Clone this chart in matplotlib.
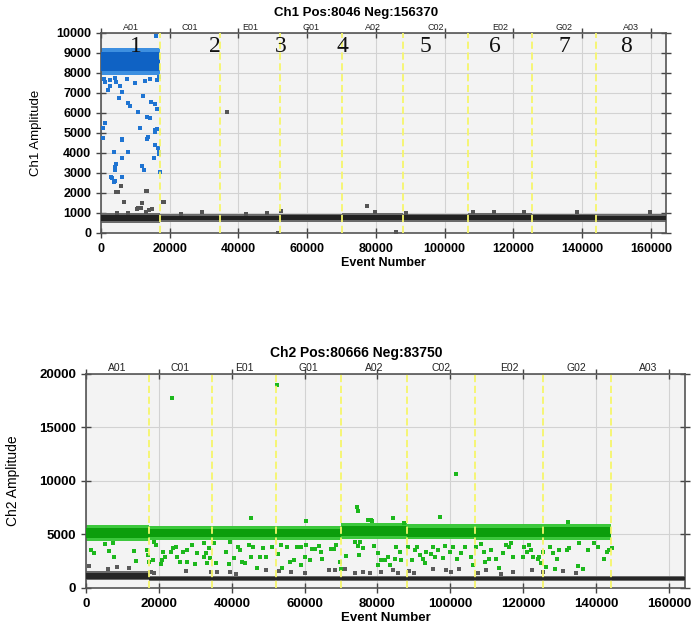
import matplotlib
matplotlib.use('Agg')
import matplotlib.pyplot as plt

plt.rcParams['font.family'] = ['Liberation Sans', 'DejaVu Sans']

# wells and their event ranges
well_names = ['A01', 'C01', 'E01', 'G01', 'A02', 'C02', 'E02', 'G02', 'A03']
well_edges = [0, 17250, 34600, 52200, 70100, 88000, 106800, 125400, 144000, 164416]
total_events = 164416

# numbers written over channel 1
number_labels = ['1', '2', '3', '4', '5', '6', '7', '8']
number_x = [10100, 33200, 52200, 70150, 94500, 114500, 134800, 152800]

# ---- channel 1 ----
ch1_title = 'Ch1 Pos:8046 Neg:156370'
# dense positive cluster (A01 only): outer / core amplitude ranges
ch1_pos_lo, ch1_pos_hi = [7900], [9250]
ch1_pos_core_lo, ch1_pos_core_hi = [8100], [9050]
# dense negative cluster per well
ch1_neg_lo = [500, 540, 540, 530, 540, 540, 530, 540, 530]
ch1_neg_hi = [1000, 960, 960, 970, 980, 970, 980, 970, 960]
ch1_neg_core_lo = [620, 640, 640, 640, 650, 650, 640, 650, 640]
ch1_neg_core_hi = [900, 870, 870, 880, 890, 880, 890, 880, 870]

ch1_pos_rain_x = [15950, 1160, 1930, 2600, 4350, 5500, 6000, 5310, 7900, 8400, 10800, 12270,
                  14500, 15650, 16150, 13240, 14200, 11300, 15850, 16150, 670, 1160, 670, 6000,
                  6100, 13240, 13530, 15850, 16600, 16810, 3860, 7740, 4250, 4060, 3100, 4060,
                  6000, 6000, 11800, 12470, 15360, 17100, 15650, 16900, 970, 2610, 4060, 7450,
                  9860, 12760, 14200, 16150, 16810, 2900, 3860, 4060]
ch1_pos_rain_y = [9850, 7570, 7150, 7330, 7530, 7330, 7070, 6730, 6520, 6330, 6070, 6870,
                  6570, 6450, 6180, 5780, 5730, 5270, 5150, 5200, 5230, 5480, 4730, 4650,
                  4720, 4680, 4780, 4400, 4230, 4070, 4070, 4070, 3430, 3150, 2730, 2600,
                  3730, 2820, 3330, 3130, 3730, 3030, 5070, 3930, 7680, 7650, 7730, 7680,
                  7480, 7620, 7680, 7650, 7780, 2820, 2570, 3320]

ch1_neg_rain_x = [4250, 4830, 5800, 6760, 13050, 18060, 11800, 10350, 11500, 12950, 13900, 14700,
                  7740, 4730, 29470, 23390, 42240, 48300, 52380, 51600, 36620, 77300, 79640,
                  85900, 88900, 108200, 114500, 123100, 138400, 159800, 10820, 11800, 13240, 18360]
ch1_neg_rain_y = [2030, 2030, 2350, 1550, 2100, 1550, 1520, 1180, 1270, 1070, 1150, 1180,
                  1020, 1020, 1030, 950, 930, 1020, 1100, 20, 6030, 1330, 1030,
                  30, 980, 1030, 1070, 1070, 1030, 1030, 1230, 1480, 2120, 1570]

# ---- channel 2 ----
ch2_title = 'Ch2 Pos:80666 Neg:83750'
ch2_pos_lo = [4400, 4450, 4450, 4450, 4600, 4550, 4500, 4450]
ch2_pos_hi = [5900, 5800, 5800, 5800, 6050, 5950, 5950, 6000]
ch2_pos_core_lo = [4700, 4750, 4750, 4750, 4900, 4800, 4800, 4750]
ch2_pos_core_hi = [5600, 5500, 5500, 5500, 5750, 5650, 5650, 5700]
ch2_neg_lo = [700, 620, 620, 620, 640, 640, 640, 640, 650]
ch2_neg_hi = [1600, 1150, 1150, 1150, 1150, 1150, 1150, 1150, 1100]
ch2_neg_core_lo = [820, 700, 700, 700, 720, 720, 720, 720, 720]
ch2_neg_core_hi = [1380, 1020, 1020, 1020, 1030, 1030, 1030, 1030, 1000]

ch2_pos_rain_x = [1370, 2280, 5200, 7300, 6390, 7580, 13240, 13700, 16700, 16900, 17350, 18260,
                  18720, 19170, 21000, 20800, 21640, 20540, 23280, 23920, 24830, 25100, 25840,
                  26480, 27850, 27850, 29220, 29860, 30590, 32410, 32410, 32870, 33140, 33780,
                  33960, 35150, 35790, 38350, 39260, 39440, 40630, 41820, 42180, 42910, 43640,
                  44740, 45190, 45750, 46850, 47760, 48580, 49500, 51140, 52780, 53600, 53890,
                  55170, 55900, 57000, 57910, 59090, 60460, 62010, 62920, 60090, 61460, 59090,
                  63920, 64560, 64830, 67300, 68030, 68670, 69580, 70040, 71230, 73700, 74610,
                  75070, 75980, 74880, 79080, 80180, 80180, 80910, 81990, 82900, 83360, 84730,
                  85190, 86100, 86560, 88390, 89490, 90220, 90950, 91590, 92500, 92960, 93410,
                  94600, 95240, 95690, 96610, 97970, 98430, 99800, 100710, 101890, 102990, 103900,
                  105680, 106310, 107040, 108410, 109320, 109600, 110690, 111150, 112520, 113430,
                  114350, 115260, 116170, 116630, 117090, 119830, 120290, 120930, 121650, 122110,
                  122570, 123940, 124390, 124850, 125490, 126220, 127410, 128040, 128770, 129140,
                  129870, 131880, 132610, 134940, 135400, 136500, 137690, 139520, 140430, 142260,
                  142900, 143630, 144360,
                  23650, 52520, 45400, 60280, 74340, 74610, 77260, 78170, 78620, 84270, 87290,
                  97060, 101440, 132150]
ch2_pos_rain_y = [3550, 3300, 4080, 4180, 3490, 2930, 3490, 2540, 3550, 3080, 2450, 2620,
                  4340, 4020, 3380, 2620, 2930, 2210, 3380, 3710, 3860, 2930, 2460,
                  3380, 3550, 2460, 4020, 2210, 3240, 2930, 4180, 3300, 2340, 3710,
                  2770, 4180, 2310, 3380, 2270, 4340, 2770, 3860, 3550, 2460, 2340,
                  4020, 2870, 3800, 1840, 2870, 3710, 2870, 3830, 3150, 4020, 1840,
                  3800, 2460, 2620, 3800, 3860, 4050, 3640, 3640, 2870, 2620, 2150,
                  3930, 3400, 2680, 3610, 3610, 4020, 2460, 1740, 2990, 4330, 3930,
                  4330, 3710, 3080, 3930, 3240, 2150, 2620, 2620, 2870, 2150, 2680,
                  3860, 3400, 2620, 3860, 2620, 3550, 3860, 3080, 2680, 2370, 3400,
                  3180, 3830, 2870, 3550, 2770, 3930, 3400, 3860, 2680, 3240, 3860,
                  2870, 2150, 3860, 4110, 3400, 2460, 2680, 3550, 2680, 1840,
                  3240, 4020, 3860, 4240, 2870, 2930, 3800, 3400, 4020, 3550,
                  2870, 2680, 2930, 2310, 3400, 1930, 3860, 3300, 1740, 2680,
                  3550, 3550, 3710, 2060, 4180, 1740, 3550, 4240, 3800, 2680,
                  3400, 3550, 3710,
                  17730, 18970, 6510, 6260, 7540, 7230, 6360, 6390, 6290, 6510, 6030,
                  6670, 10650, 6200]

ch2_neg_rain_x = [730, 5930, 8400, 11690, 17800, 18720, 27390, 34240, 36060, 39440, 41090,
                  49500, 53000, 56300, 60090, 66660, 68210, 70950, 73690, 75980, 77990, 81000,
                  84200, 85560, 88740, 90100, 95120, 98770, 100140, 102420, 107500, 109780,
                  113890, 117090, 122390, 125310, 130780, 134430]
ch2_neg_rain_y = [2060, 1740, 1930, 1840, 1530, 1430, 1620, 1530, 1530, 1530, 1310,
                  1650, 1600, 1450, 1430, 1710, 1710, 1740, 1430, 1530, 1370, 1530,
                  1710, 1430, 1620, 1370, 1740, 1710, 1530, 1740, 1370, 1680,
                  1310, 1530, 1710, 1530, 1620, 1400]


def band(ax, lo, hi, color, z):
    n = len(lo)
    left = well_edges[:n]
    widths = [well_edges[i + 1] - well_edges[i] for i in range(n)]
    heights = [hi[i] - lo[i] for i in range(n)]
    ax.bar(left, heights, width=widths, bottom=lo, align='edge', color=color,
           linewidth=0, zorder=z)


def style(ax, yticks, title, ylabel, fs, wfs, title_y, ylabel_x):
    ax.set_facecolor('#f3f3f3')
    ax.set_xlim(0, total_events)
    ax.set_ylim(yticks[0], yticks[-1])
    ax.set_xticks(range(0, 160001, 20000))
    ax.set_yticks(yticks)
    ax.grid(color='#d2d2d2', lw=0.8)
    ax.set_axisbelow(True)
    for s in ax.spines.values():
        s.set_color('#555555')
        s.set_linewidth(1.2)
    ax.tick_params(axis='both', direction='inout', length=7, width=1, color='#444444',
                   top=True, right=True, labelsize=fs)
    for lab in ax.get_xticklabels() + ax.get_yticklabels():
        lab.set_fontweight('bold')
    for x in well_edges[1:-1]:
        ax.axvline(x, color='#f6f66a', lw=1.3, ls=(0, (4, 2)), zorder=5)
    for i, name in enumerate(well_names):
        c = (well_edges[i] + well_edges[i + 1]) / 2
        ax.text(c, 1.005, name, transform=ax.get_xaxis_transform(), ha='center',
                va='bottom', fontsize=wfs, color='#222222')
    ax.set_xlabel('Event Number', fontsize=fs, fontweight='bold', labelpad=2)
    ax.set_ylabel(ylabel, fontsize=fs + 0.5)
    ax.yaxis.set_label_coords(ylabel_x, 0.5)
    fig.text(0.515, title_y, title, ha='center', va='center', fontsize=fs + 0.5,
             fontweight='bold')


fig = plt.figure(figsize=(6.91, 6.34), dpi=100)
ax1 = fig.add_axes([0.1462, 0.6325, 0.8176, 0.3155])
ax2 = fig.add_axes([0.1245, 0.0726, 0.8669, 0.3375])

# channel 1
band(ax1, ch1_neg_lo, ch1_neg_hi, '#6a6a6a', 2)
band(ax1, ch1_neg_core_lo, ch1_neg_core_hi, '#222222', 3)
band(ax1, ch1_pos_lo, ch1_pos_hi, '#3d8fe0', 2)
band(ax1, ch1_pos_core_lo, ch1_pos_core_hi, '#0f62c4', 3)
ax1.scatter(ch1_pos_rain_x, ch1_pos_rain_y, s=6, marker='s', color='#1f74d2', lw=0, zorder=4)
ax1.scatter(ch1_neg_rain_x, ch1_neg_rain_y, s=5.5, marker='s', color='#555555', lw=0, zorder=4)
for lab, x in zip(number_labels, number_x):
    ax1.text(x, 9300, lab, ha='center', va='center', fontsize=17,
             family='Liberation Serif', color='#111111', zorder=6)
style(ax1, list(range(0, 10001, 1000)), ch1_title, 'Ch1 Amplitude', 9, 6.5, 0.979, -0.105)

# channel 2
band(ax2, ch2_neg_lo, ch2_neg_hi, '#6a6a6a', 2)
band(ax2, ch2_neg_core_lo, ch2_neg_core_hi, '#262626', 3)
band(ax2, ch2_pos_lo, ch2_pos_hi, '#3cc83c', 2)
band(ax2, ch2_pos_core_lo, ch2_pos_core_hi, '#0c9e0c', 3)
ax2.scatter(ch2_pos_rain_x, ch2_pos_rain_y, s=5.5, marker='s', color='#1cb81c', lw=0, zorder=4)
ax2.scatter(ch2_neg_rain_x, ch2_neg_rain_y, s=5, marker='s', color='#5a5a5a', lw=0, zorder=4)
style(ax2, [0, 5000, 10000, 15000, 20000], ch2_title, 'Ch2 Amplitude', 9.5, 7.5, 0.443, -0.11)

fig.savefig('out.png', dpi=100)
